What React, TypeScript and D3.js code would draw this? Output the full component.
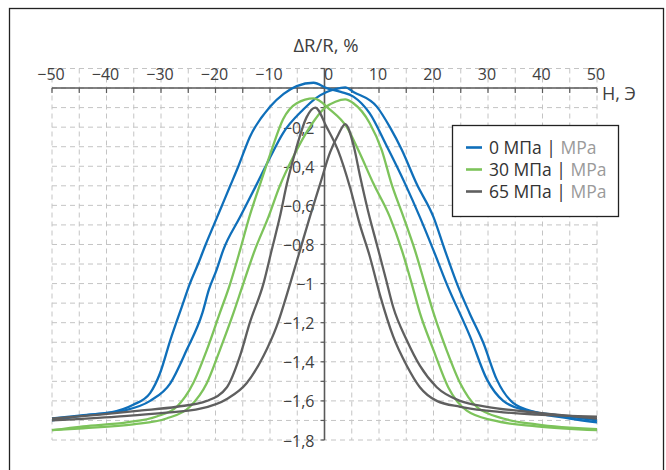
import * as d3 from "d3";
import { useRef, useEffect } from "react";

// ΔR/R (%) vs field H (Oe), two sweep branches per pressure
const xTicks = d3.range(-50, 51, 10);
const yLabels = [-0.2, -0.4, -0.6, -0.8, -1, -1.2, -1.4, -1.6, -1.8];

const p0Left: [number, number][] = [
  [-50, -1.69], [-45, -1.675], [-39.4, -1.66], [-35.1, -1.62], [-32, -1.56], [-30.2, -1.46],
  [-28.3, -1.29], [-26.2, -1.12], [-24.7, -1.0], [-23.2, -0.9], [-21.8, -0.8], [-20.3, -0.7],
  [-18.8, -0.6], [-17.3, -0.5], [-15.8, -0.4], [-13.7, -0.25], [-10, -0.096], [-7.5, -0.03],
  [-5.1, 0.01], [-2, 0.027], [0.4, 0.0], [3, -0.02], [5.3, -0.044], [8.3, -0.13], [11.3, -0.29],
  [14.8, -0.49], [17.5, -0.66], [20, -0.83], [22.4, -1.0], [26.7, -1.27], [29.8, -1.49],
  [32.8, -1.6], [37.1, -1.65], [42, -1.67], [50, -1.7],
];
const p0Right: [number, number][] = [
  [-50, -1.7], [-43, -1.67], [-36.9, -1.65], [-32, -1.6], [-28.3, -1.51], [-25.3, -1.34],
  [-22.4, -1.15], [-21.2, -1.03], [-19.8, -0.93], [-18.6, -0.83], [-15.5, -0.66], [-12.4, -0.49],
  [-9.9, -0.35], [-7.6, -0.23], [-3.9, -0.11], [-1.5, -0.05], [0.4, -0.02], [2, -0.005],
  [3.8, 0.003], [5.3, -0.02], [9.6, -0.095], [12, -0.2], [14.2, -0.317], [16.9, -0.49],
  [20, -0.66], [22.1, -0.83], [24.3, -1.0], [26.6, -1.15], [29.1, -1.3], [31.6, -1.49],
  [34.6, -1.61], [39, -1.66], [45, -1.69], [50, -1.71],
];
const p30Left: [number, number][] = [
  [-50, -1.75], [-44.3, -1.73], [-36.3, -1.71], [-30.8, -1.68], [-27.1, -1.63], [-24.1, -1.51],
  [-21.6, -1.34], [-19.2, -1.15], [-17.3, -1.0], [-15.5, -0.83], [-13.8, -0.66], [-11.8, -0.49],
  [-9.7, -0.317], [-7.6, -0.16], [-5.1, -0.078], [-2, -0.053], [1, -0.11], [4.1, -0.2],
  [6.2, -0.317], [9, -0.49], [12, -0.66], [14.2, -0.83], [16, -1.0], [17.5, -1.15], [20, -1.34],
  [22.7, -1.53], [26.1, -1.65], [31, -1.7], [38.9, -1.73], [50, -1.75],
];
const p30Right: [number, number][] = [
  [-50, -1.75], [-44.3, -1.74], [-35.1, -1.72], [-29, -1.69], [-24.7, -1.63], [-21.6, -1.51],
  [-19.2, -1.34], [-16.7, -1.15], [-14.9, -1.0], [-12.8, -0.83], [-10.3, -0.66], [-8.2, -0.5],
  [-5.7, -0.35], [-2.7, -0.2], [0.1, -0.1], [2, -0.07], [3.8, -0.058], [5.3, -0.078],
  [8.3, -0.18], [10.5, -0.317], [12.3, -0.49], [14.5, -0.66], [16.6, -0.83], [18.4, -1.0],
  [20, -1.15], [22.4, -1.34], [24.9, -1.51], [27.9, -1.63], [32.8, -1.69], [38.9, -1.72], [50, -1.745],
];
const p65Left: [number, number][] = [
  [-50, -1.69], [-41.2, -1.67], [-33.9, -1.65], [-27.1, -1.63], [-21.6, -1.6], [-17.9, -1.53],
  [-15.5, -1.37], [-13.7, -1.2], [-11.2, -1.0], [-9.7, -0.83], [-8.2, -0.66], [-6.9, -0.49],
  [-5.1, -0.3], [-3.3, -0.15], [-1.7, -0.1], [0.4, -0.2], [2.5, -0.32], [4.7, -0.51],
  [6.5, -0.7], [8.3, -0.86], [10.2, -1.06], [12.6, -1.27], [15.1, -1.42], [17.5, -1.53],
  [20.6, -1.6], [24.9, -1.63], [29.8, -1.65], [38.9, -1.67], [50, -1.68],
];
const p65Right: [number, number][] = [
  [-50, -1.7], [-38.1, -1.68], [-29, -1.66], [-22.8, -1.64], [-17.9, -1.59], [-14.3, -1.51],
  [-11.2, -1.37], [-8.8, -1.22], [-6.3, -1.0], [-4.5, -0.83], [-2.7, -0.66], [-0.8, -0.49],
  [1, -0.33], [2.5, -0.24], [3.8, -0.184], [5.3, -0.29], [6.6, -0.46], [8, -0.63], [9.7, -0.81],
  [11.3, -0.98], [12.6, -1.12], [15.1, -1.29], [17.5, -1.42], [20.6, -1.53], [24.9, -1.6],
  [29.8, -1.63], [38.9, -1.66], [50, -1.69],
];

const series = [
  { name: "0 МПа", color: "#0f6fba", branches: [p0Left, p0Right] },
  { name: "30 МПа", color: "#7dc35b", branches: [p30Left, p30Right] },
  { name: "65 МПа", color: "#5f5f5f", branches: [p65Left, p65Right] },
];

const W = 666;
const H = 470;
const FONT = "'Open Sans', 'Noto Sans', sans-serif";

const Chart = () => {
  const ref = useRef<SVGSVGElement>(null);

  useEffect(() => {
    const svg = d3.select(ref.current);
    svg.selectAll("*").remove();

    const x = d3.scaleLinear().domain([-50, 50]).range([52, 597]);
    const y = d3.scaleLinear().domain([0.1, -1.8]).range([68.5, 440]);

    svg.append("rect").attr("width", W).attr("height", H).attr("fill", "#fff");

    // outer frame
    svg.append("rect")
      .attr("x", 9.5).attr("y", 8.5)
      .attr("width", 654).attr("height", 480)
      .attr("fill", "none").attr("stroke", "#222").attr("stroke-width", 1.3);

    const grid = svg.append("g")
      .attr("stroke", "#c4c4c4").attr("stroke-width", 1).attr("stroke-dasharray", "5,4");

    d3.range(-50, 51, 5).forEach(v => {
      grid.append("line")
        .attr("x1", x(v)).attr("x2", x(v))
        .attr("y1", y(0.1)).attr("y2", y(-1.8));
    });
    d3.range(-18, 2).map(i => i / 10).forEach(v => {
      grid.append("line")
        .attr("x1", x(-50)).attr("x2", x(50))
        .attr("y1", y(v)).attr("y2", y(v));
    });

    const axisColor = "#595959";
    // x axis (at y = 0)
    svg.append("line")
      .attr("x1", x(-50)).attr("x2", x(50))
      .attr("y1", y(0)).attr("y2", y(0))
      .attr("stroke", axisColor).attr("stroke-width", 1.6);
    d3.range(-50, 51, 5).forEach(v => {
      svg.append("line")
        .attr("x1", x(v)).attr("x2", x(v))
        .attr("y1", y(0)).attr("y2", y(0) + 5)
        .attr("stroke", axisColor).attr("stroke-width", 1.2);
    });
    // y axis (at x = 0)
    svg.append("line")
      .attr("x1", x(0)).attr("x2", x(0))
      .attr("y1", y(0.1)).attr("y2", y(-1.8))
      .attr("stroke", axisColor).attr("stroke-width", 1.6);
    d3.range(-18, 2).map(i => i / 10).forEach(v => {
      svg.append("line")
        .attr("x1", x(0) - 4).attr("x2", x(0))
        .attr("y1", y(v)).attr("y2", y(v))
        .attr("stroke", axisColor).attr("stroke-width", 1.2);
    });

    const fmt = (v: number) => String(v).replace("-", "\u2212").replace(".", ",");

    svg.append("g")
      .selectAll("text")
      .data(xTicks)
      .join("text")
      .attr("x", d => x(d) + (d === 0 ? 4 : -1))
      .attr("y", 80)
      .attr("text-anchor", "middle")
      .attr("font-family", FONT).attr("font-size", 16).attr("fill", "#404040")
      .text(d => fmt(d));

    svg.append("g")
      .selectAll("text")
      .data(yLabels)
      .join("text")
      .attr("x", x(0) - 10)
      .attr("y", d => y(d) + 6.5)
      .attr("text-anchor", "end")
      .attr("font-family", FONT).attr("font-size", 16).attr("fill", "#404040")
      .text(d => fmt(d));

    svg.append("text")
      .attr("x", 326).attr("y", 52)
      .attr("text-anchor", "middle")
      .attr("font-family", FONT).attr("font-size", 18.5).attr("fill", "#404040")
      .text("ΔR/R, %");
    svg.append("text")
      .attr("x", 602).attr("y", 100)
      .attr("font-family", FONT).attr("font-size", 18).attr("fill", "#404040")
      .text("H, Э");

    const line = d3.line<[number, number]>()
      .x(d => x(d[0]))
      .y(d => y(d[1]))
      .curve(d3.curveMonotoneX);

    series.forEach(s => {
      s.branches.forEach(b => {
        svg.append("path")
          .datum(b)
          .attr("fill", "none")
          .attr("stroke", s.color)
          .attr("stroke-width", 2.3)
          .attr("stroke-linejoin", "round")
          .attr("d", line);
      });
    });

    // legend
    const lg = svg.append("g");
    lg.append("rect")
      .attr("x", 452.5).attr("y", 125.5)
      .attr("width", 166).attr("height", 91)
      .attr("fill", "#fff").attr("stroke", "#222").attr("stroke-width", 1.3);
    series.forEach((s, i) => {
      const cy = 147.5 + i * 22;
      lg.append("line")
        .attr("x1", 466).attr("x2", 482)
        .attr("y1", cy).attr("y2", cy)
        .attr("stroke", s.color).attr("stroke-width", 2.6);
      const t = lg.append("text")
        .attr("x", 489).attr("y", cy + 6.5)
        .attr("font-family", FONT).attr("font-size", 17.5);
      t.append("tspan").attr("fill", "#333").text(s.name + " | ");
      t.append("tspan").attr("fill", "#9a9a9a").text("MPa");
    });
  }, []);

  return (
    <svg
      ref={ref}
      width={W}
      height={H}
      style={{ position: "absolute", left: 0, top: 0, display: "block" }}
    />
  );
};

export default function App() {
  return <Chart />;
}
